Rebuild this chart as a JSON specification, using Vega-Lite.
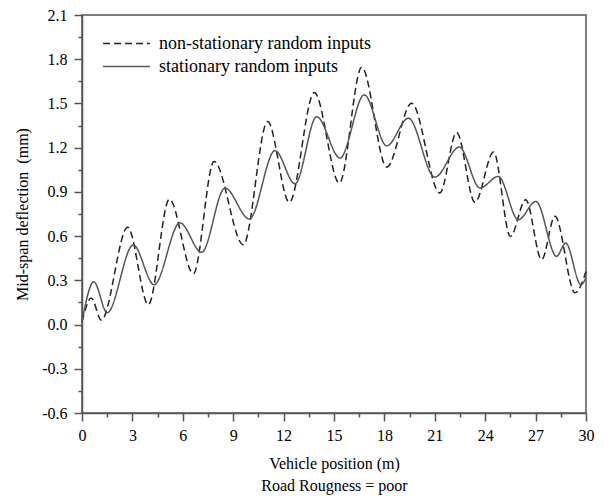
{
  "$schema": "https://vega.github.io/schema/vega-lite/v6.json",
  "width": 504,
  "height": 398,
  "autosize": {"type": "none"},
  "padding": {"left": 82, "top": 15, "right": 25, "bottom": 85},
  "background": "white",
  "config": {
    "view": {"stroke": "#555", "strokeWidth": 1.5},
    "axis": {"domainColor": "#555", "domainWidth": 1.5, "tickColor": "#555", "tickWidth": 1.5, "labelFont": "Liberation Serif", "labelFontSize": 16, "labelColor": "black", "titleFont": "Liberation Serif", "titleFontSize": 16, "titleFontWeight": "normal", "titleColor": "black", "grid": false, "labelOverlap": false, "labelFlush": false},
    "legend": {"labelFont": "Liberation Serif"}
  },
  "data": {"values": [
    {"x": 0, "y": 0.02, "s": "non-stationary random inputs"},
    {"x": 0.55, "y": 0.18, "s": "non-stationary random inputs"},
    {"x": 1.15, "y": 0.03, "s": "non-stationary random inputs"},
    {"x": 2.72, "y": 0.66, "s": "non-stationary random inputs"},
    {"x": 3.95, "y": 0.135, "s": "non-stationary random inputs"},
    {"x": 5.2, "y": 0.85, "s": "non-stationary random inputs"},
    {"x": 6.63, "y": 0.345, "s": "non-stationary random inputs"},
    {"x": 7.86, "y": 1.107, "s": "non-stationary random inputs"},
    {"x": 9.6, "y": 0.542, "s": "non-stationary random inputs"},
    {"x": 11.05, "y": 1.377, "s": "non-stationary random inputs"},
    {"x": 12.34, "y": 0.829, "s": "non-stationary random inputs"},
    {"x": 13.83, "y": 1.574, "s": "non-stationary random inputs"},
    {"x": 15.32, "y": 0.96, "s": "non-stationary random inputs"},
    {"x": 16.65, "y": 1.746, "s": "non-stationary random inputs"},
    {"x": 18.14, "y": 1.068, "s": "non-stationary random inputs"},
    {"x": 19.62, "y": 1.502, "s": "non-stationary random inputs"},
    {"x": 21.3, "y": 0.892, "s": "non-stationary random inputs"},
    {"x": 22.3, "y": 1.303, "s": "non-stationary random inputs"},
    {"x": 23.39, "y": 0.829, "s": "non-stationary random inputs"},
    {"x": 24.5, "y": 1.17, "s": "non-stationary random inputs"},
    {"x": 25.5, "y": 0.598, "s": "non-stationary random inputs"},
    {"x": 26.41, "y": 0.847, "s": "non-stationary random inputs"},
    {"x": 27.36, "y": 0.44, "s": "non-stationary random inputs"},
    {"x": 28.15, "y": 0.734, "s": "non-stationary random inputs"},
    {"x": 29.35, "y": 0.215, "s": "non-stationary random inputs"},
    {"x": 30, "y": 0.36, "s": "non-stationary random inputs"},
    {"x": 0, "y": 0.02, "s": "stationary random inputs"},
    {"x": 0.7, "y": 0.29, "s": "stationary random inputs"},
    {"x": 1.5, "y": 0.08, "s": "stationary random inputs"},
    {"x": 3.05, "y": 0.54, "s": "stationary random inputs"},
    {"x": 4.29, "y": 0.27, "s": "stationary random inputs"},
    {"x": 5.83, "y": 0.69, "s": "stationary random inputs"},
    {"x": 7.12, "y": 0.49, "s": "stationary random inputs"},
    {"x": 8.51, "y": 0.926, "s": "stationary random inputs"},
    {"x": 9.96, "y": 0.716, "s": "stationary random inputs"},
    {"x": 11.49, "y": 1.18, "s": "stationary random inputs"},
    {"x": 12.68, "y": 0.955, "s": "stationary random inputs"},
    {"x": 13.97, "y": 1.41, "s": "stationary random inputs"},
    {"x": 15.36, "y": 1.13, "s": "stationary random inputs"},
    {"x": 16.8, "y": 1.558, "s": "stationary random inputs"},
    {"x": 18.14, "y": 1.213, "s": "stationary random inputs"},
    {"x": 19.43, "y": 1.4, "s": "stationary random inputs"},
    {"x": 21.0, "y": 1.0, "s": "stationary random inputs"},
    {"x": 22.46, "y": 1.204, "s": "stationary random inputs"},
    {"x": 23.69, "y": 0.926, "s": "stationary random inputs"},
    {"x": 24.78, "y": 1.005, "s": "stationary random inputs"},
    {"x": 25.97, "y": 0.711, "s": "stationary random inputs"},
    {"x": 27.02, "y": 0.835, "s": "stationary random inputs"},
    {"x": 28.25, "y": 0.463, "s": "stationary random inputs"},
    {"x": 28.79, "y": 0.553, "s": "stationary random inputs"},
    {"x": 29.7, "y": 0.27, "s": "stationary random inputs"},
    {"x": 30, "y": 0.32, "s": "stationary random inputs"}
  ]},
  "mark": {"type": "line", "interpolate": "monotone", "strokeWidth": 1.5},
  "encoding": {
    "x": {"field": "x", "type": "quantitative",
      "scale": {"domain": [0, 30], "nice": false, "zero": false},
      "axis": {"values": [0,1.5,3,4.5,6,7.5,9,10.5,12,13.5,15,16.5,18,19.5,21,22.5,24,25.5,27,28.5,30],
        "labelExpr": "datum.value % 3 === 0 ? datum.label : ''",
        "tickSize": {"condition": {"test": "datum.value % 3 !== 0", "value": 4}, "value": 8},
        "labelPadding": 6,
        "title": ["Vehicle position (m)", "Road Rougness = poor"],
        "titleLineHeight": 22, "titlePadding": 12}},
    "y": {"field": "y", "type": "quantitative",
      "scale": {"domain": [-0.6, 2.1], "nice": false, "zero": false},
      "axis": {"values": [-0.6,-0.45,-0.3,-0.15,0,0.15,0.3,0.45,0.6,0.75,0.9,1.05,1.2,1.35,1.5,1.65,1.8,1.95,2.1],
        "labelExpr": "abs(round(datum.value/0.3)*0.3 - datum.value) > 0.01 ? '' : ((datum.value < -0.001 ? '-' : '') + format(abs(datum.value), '.1f'))",
        "tickSize": {"condition": {"test": "abs(round(datum.value/0.3)*0.3 - datum.value) > 0.01", "value": 4}, "value": 8},
        "labelPadding": 7,
        "title": "Mid-span deflection\u00a0\u00a0(mm)", "titlePadding": 11}},
    "stroke": {"field": "s", "type": "nominal",
      "scale": {"domain": ["non-stationary random inputs", "stationary random inputs"], "range": ["#222222", "#555555"]},
      "legend": {"orient": "none", "legendX": 20, "legendY": 17, "title": null, "symbolType": "stroke", "symbolSize": 2200, "symbolStrokeWidth": 1.5, "labelFontSize": 18, "labelColor": "black", "labelLimit": 0, "rowPadding": 0, "clipHeight": 23, "labelOffset": 8,
        "labelExpr": "datum.value === 'stationary random inputs' ? '\u00a0\u00a0' + datum.label : datum.label"}},
    "strokeDash": {"field": "s", "type": "nominal",
      "scale": {"domain": ["non-stationary random inputs", "stationary random inputs"], "range": [[7, 4], [1, 0]]},
      "legend": {"orient": "none", "legendX": 20, "legendY": 17, "title": null, "symbolType": "stroke", "symbolSize": 2200, "symbolStrokeWidth": 1.5, "labelFontSize": 18, "labelColor": "black", "labelLimit": 0, "rowPadding": 0, "clipHeight": 23, "labelOffset": 8,
        "labelExpr": "datum.value === 'stationary random inputs' ? '\u00a0\u00a0' + datum.label : datum.label"}}
  }
}
